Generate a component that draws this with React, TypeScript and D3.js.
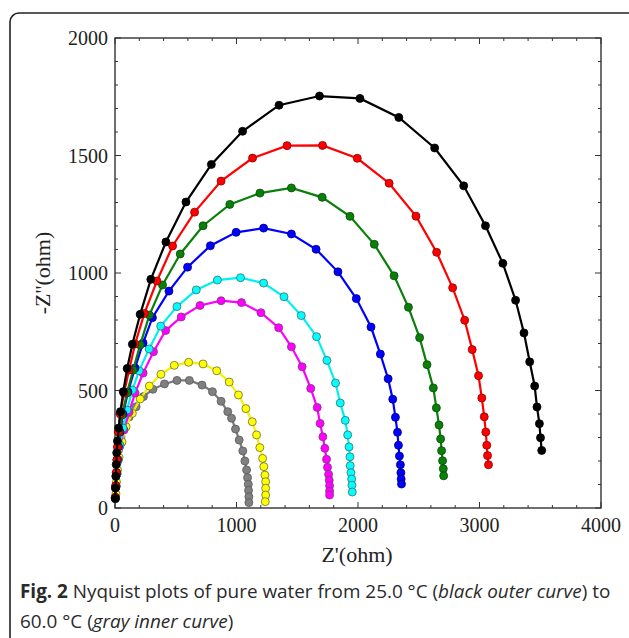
import React from "react";
import * as d3 from "d3";

type P = [number, number];

const xTicks = [0, 1000, 2000, 3000, 4000];
const yTicks = [0, 500, 1000, 1500, 2000];
const xMinorStep = 200;
const yMinorStep = 100;

const black: P[] = [[2,40],[4,85],[7,135],[10,185],[14,235],[20,285],[30,340],[45,410],[68,495],[100,594],[143,697],[207,824],[295,973],[419,1132],[584,1302],[793,1462],[1050,1603],[1350,1714],[1683,1753],[2016,1743],[2336,1662],[2631,1532],[2870,1371],[3049,1201],[3192,1041],[3297,884],[3366,745],[3413,622],[3454,519],[3473,430],[3493,359],[3502,299],[3512,245]];
const red: P[] = [[3,45],[6,95],[10,150],[15,205],[20,260],[27,325],[43,400],[74,489],[116,587],[165,698],[242,828],[345,966],[474,1115],[655,1259],[873,1391],[1132,1489],[1416,1542],[1708,1543],[1994,1488],[2256,1382],[2477,1242],[2647,1088],[2779,937],[2878,799],[2940,674],[2992,563],[3019,468],[3039,388],[3052,323],[3060,267],[3066,223],[3074,184]];
const green: P[] = [[3,45],[7,95],[12,150],[17,205],[24,262],[35,323],[58,396],[99,489],[149,587],[207,694],[283,821],[391,949],[537,1081],[725,1201],[945,1292],[1193,1340],[1452,1362],[1705,1322],[1934,1241],[2134,1122],[2297,988],[2415,854],[2507,725],[2568,610],[2620,511],[2645,426],[2667,353],[2680,294],[2688,244],[2696,201],[2702,167],[2705,137]];
const blue: P[] = [[3,45],[8,95],[14,150],[20,205],[28,262],[41,323],[66,400],[107,494],[165,596],[231,702],[308,810],[444,923],[597,1025],[785,1116],[997,1173],[1223,1191],[1452,1166],[1655,1101],[1835,1005],[1986,891],[2107,770],[2184,655],[2248,550],[2286,463],[2308,386],[2325,322],[2333,267],[2341,221],[2349,184],[2353,150],[2355,123],[2358,102]];
const cyan: P[] = [[4,40],[9,90],[16,145],[26,205],[41,268],[66,340],[99,417],[143,502],[198,584],[281,677],[376,774],[510,857],[669,928],[843,970],[1033,980],[1223,957],[1391,899],[1533,819],[1659,729],[1744,628],[1815,532],[1854,447],[1895,373],[1915,311],[1926,260],[1934,218],[1936,180],[1942,150],[1948,123],[1950,97],[1953,68]];
const magenta: P[] = [[4,40],[9,90],[17,145],[27,205],[41,264],[74,332],[116,408],[165,489],[231,574],[317,665],[417,755],[545,813],[700,862],[873,882],[1041,874],[1201,831],[1347,767],[1452,686],[1540,601],[1611,509],[1664,428],[1688,360],[1711,303],[1727,254],[1741,207],[1749,173],[1758,143],[1763,118],[1766,95],[1766,72],[1766,55]];
const yellow: P[] = [[8,60],[12,111],[21,162],[33,216],[58,281],[91,346],[143,403],[207,464],[283,519],[378,569],[488,607],[606,620],[725,613],[837,584],[940,536],[1016,481],[1077,423],[1130,367],[1165,311],[1192,257],[1215,211],[1225,176],[1234,140],[1240,112],[1240,84],[1240,55],[1237,27]];
const gray: P[] = [[2,43],[4,85],[8,136],[17,191],[29,247],[50,302],[77,353],[116,387],[174,431],[234,474],[312,505],[407,528],[510,543],[612,543],[716,523],[802,495],[873,454],[928,410],[959,382],[992,336],[1022,289],[1052,243],[1069,200],[1083,162],[1091,129],[1097,101],[1099,75],[1102,48],[1102,23]];

const seriesList = [
  { data: gray, line: "#7a7a7a", fill: "#808080", stroke: "#5a5a5a" },
  { data: yellow, line: "#f2f200", fill: "#ffff00", stroke: "#6b6b3a" },
  { data: magenta, line: "#ff00ff", fill: "#ff00ff", stroke: "#7a3a7a" },
  { data: cyan, line: "#00f0f0", fill: "#00ffff", stroke: "#3d6b6b" },
  { data: blue, line: "#0000ff", fill: "#0000ff", stroke: "#00007a" },
  { data: green, line: "#0a800a", fill: "#0a800a", stroke: "#064a06" },
  { data: red, line: "#ff0000", fill: "#ff0000", stroke: "#8a0000" },
  { data: black, line: "#000000", fill: "#000000", stroke: "#000000" },
];

const L = 115, R = 601, T = 38, B = 508;

export default function App() {
  const x = d3.scaleLinear().domain([0, 4000]).range([L, R]);
  const y = d3.scaleLinear().domain([0, 2000]).range([B, T]);
  const line = d3.line<P>().x(d => x(d[0])).y(d => y(d[1]));
  const xMinor = d3.range(0, 4000 + 1, xMinorStep).filter(v => !xTicks.includes(v));
  const yMinor = d3.range(0, 2000 + 1, yMinorStep).filter(v => !yTicks.includes(v));
  const serif = "'Liberation Serif', 'Times New Roman', serif";
  const sans = "'Open Sans', 'Noto Sans', sans-serif";
  const axisColor = "#333";
  return (
    <svg width={629} height={638} style={{ position: "absolute", left: 0, top: 0, background: "#fff" }}>
      <rect x={10} y={13} width={640} height={640} rx={9} fill="none" stroke="#222" strokeWidth={1.6} />
      <rect x={L} y={T} width={R - L} height={B - T} fill="none" stroke={axisColor} strokeWidth={1.4} />
      {xTicks.map(v => (
        <g key={"xt" + v}>
          <line x1={x(v)} x2={x(v)} y1={B} y2={B - 6} stroke={axisColor} strokeWidth={1} />
          <line x1={x(v)} x2={x(v)} y1={T} y2={T + 6} stroke={axisColor} strokeWidth={1} />
          <text x={x(v)} y={532} textAnchor="middle" fontFamily={serif} fontSize={20} fill="#222">{v}</text>
        </g>
      ))}
      {xMinor.map(v => (
        <g key={"xm" + v}>
          <line x1={x(v)} x2={x(v)} y1={B} y2={B - 3} stroke={axisColor} strokeWidth={1} />
          <line x1={x(v)} x2={x(v)} y1={T} y2={T + 3} stroke={axisColor} strokeWidth={1} />
        </g>
      ))}
      {yTicks.map(v => (
        <g key={"yt" + v}>
          <line x1={L} x2={L + 6} y1={y(v)} y2={y(v)} stroke={axisColor} strokeWidth={1} />
          <line x1={R} x2={R - 6} y1={y(v)} y2={y(v)} stroke={axisColor} strokeWidth={1} />
          <text x={108} y={y(v) + 7} textAnchor="end" fontFamily={serif} fontSize={20} fill="#222">{v}</text>
        </g>
      ))}
      {yMinor.map(v => (
        <g key={"ym" + v}>
          <line x1={L} x2={L + 3} y1={y(v)} y2={y(v)} stroke={axisColor} strokeWidth={1} />
          <line x1={R} x2={R - 3} y1={y(v)} y2={y(v)} stroke={axisColor} strokeWidth={1} />
        </g>
      ))}
      <text x={357} y={562} textAnchor="middle" fontFamily={serif} fontSize={22} fill="#222">Z'(ohm)</text>
      <text transform="translate(50,273) rotate(-90)" textAnchor="middle" fontFamily={serif} fontSize={22} fill="#222">-Z''(ohm)</text>
      {seriesList.map((s, i) => (
        <g key={"s" + i}>
          <path d={line(s.data) || ""} fill="none" stroke={s.line} strokeWidth={2.2} />
          {s.data.map((d, j) => (
            <circle key={j} cx={x(d[0])} cy={y(d[1])} r={4} fill={s.fill} stroke={s.stroke} strokeWidth={0.8} />
          ))}
        </g>
      ))}
      <text x={20} y={598} fontFamily={sans} fontSize={18.9} fill="#2a2a2a">
        <tspan fontWeight="bold">Fig. 2</tspan>
        <tspan> Nyquist plots of pure water from 25.0 °C (</tspan>
        <tspan fontStyle="italic">black outer curve</tspan>
        <tspan>) to</tspan>
      </text>
      <text x={20} y={628} fontFamily={sans} fontSize={18.9} fill="#2a2a2a">
        <tspan>60.0 °C (</tspan>
        <tspan fontStyle="italic">gray inner curve</tspan>
        <tspan>)</tspan>
      </text>
    </svg>
  );
}
